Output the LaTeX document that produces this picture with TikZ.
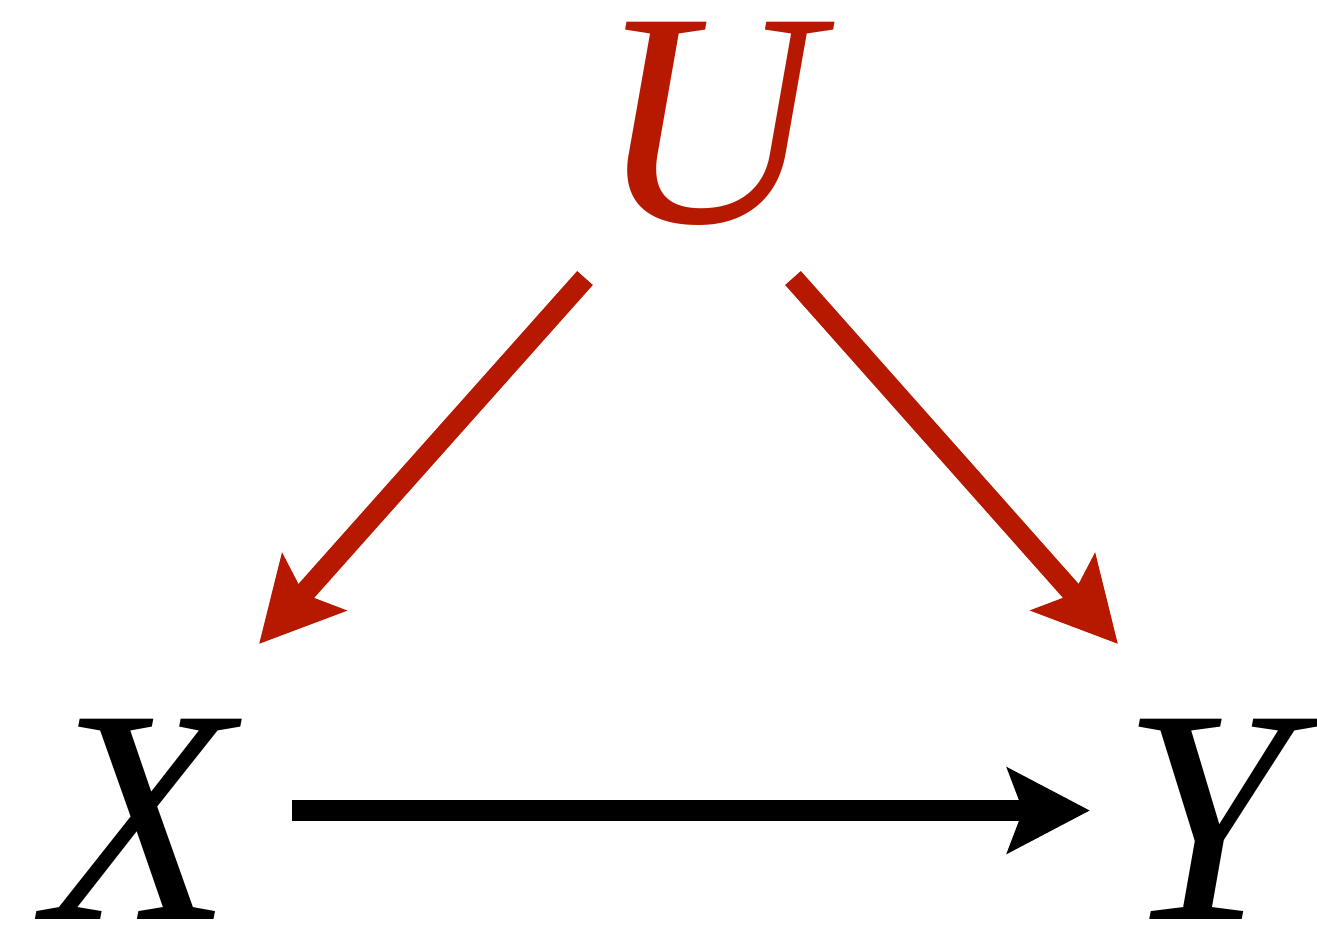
\documentclass[tikz,border=0pt]{standalone}
\usepackage{fontspec}
\setmainfont{Liberation Serif}
\usetikzlibrary{arrows.meta}
\definecolor{ured}{RGB}{182,24,0}
\begin{document}
\begin{tikzpicture}[x=0.01cm,y=-0.01cm,
  var/.style={inner sep=0pt,anchor=base,font=\fontsize{87}{87}\selectfont\itshape},
  edge/.style={line width=0.21cm,-{Stealth[length=0.82cm,width=0.84cm,inset=0.15cm]}}]
\useasboundingbox (0,0) rectangle (1317,932);
\node[var,text=ured] (U) at (708,222) {U};
\node[var] (X) at (139,919) {X};
\node[var] (Y) at (1207,919) {Y};
\coordinate (ua) at (585,278);
\coordinate (ub) at (793,278);
\coordinate (xt) at (259,644);
\coordinate (yt) at (1118,644);
\coordinate (xs) at (292,810.5);
\coordinate (ye) at (1090,810.5);
\draw[edge,ured] (ua) -- (xt);
\draw[edge,ured] (ub) -- (yt);
\draw[edge,black] (xs) -- (ye);
\end{tikzpicture}
\end{document}
